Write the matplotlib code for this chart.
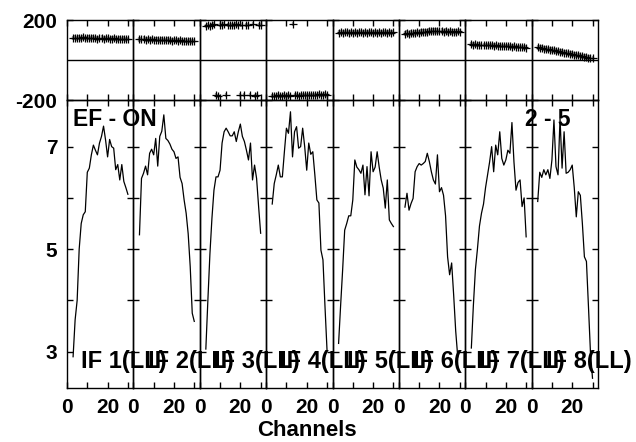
import matplotlib
matplotlib.use('Agg')
import matplotlib.pyplot as plt

plt.rcParams['font.family'] = 'Liberation Sans'
plt.rcParams['font.weight'] = 'bold'

# channel numbers of the plotted points
channels = list(range(3, 31))
if_labels = ['IF 1(LL)', 'IF 2(LL)', 'IF 3(LL)', 'IF 4(LL)',
             'IF 5(LL)', 'IF 6(LL)', 'IF 7(LL)', 'IF 8(LL)']

# amplitude per IF
amp1 = [2.90, 3.62, 4.00, 5.00, 5.50, 5.67, 5.73, 6.50, 6.58, 6.84, 7.03, 6.93, 6.84, 7.07,
        7.20, 7.40, 7.13, 6.80, 7.14, 7.00, 6.97, 6.55, 6.65, 6.35, 6.65, 6.32, 6.20, 6.07]
amp2 = [5.28, 6.38, 6.48, 6.62, 6.45, 6.87, 6.95, 6.84, 7.16, 6.62, 7.20, 7.30, 7.62, 7.16,
        7.12, 7.05, 6.95, 6.90, 6.77, 6.80, 6.40, 6.28, 5.96, 5.70, 5.30, 4.66, 3.75, 3.59]
amp3 = [3.05, 4.00, 4.90, 5.60, 6.15, 6.41, 6.41, 6.54, 7.07, 7.29, 7.36, 7.29, 7.21, 7.21,
        7.29, 7.10, 7.29, 7.44, 7.20, 7.10, 6.93, 6.74, 7.07, 6.35, 6.64, 6.38, 5.83, 5.31]
amp4 = [5.88, 6.28, 6.45, 6.64, 6.41, 6.41, 6.90, 7.36, 7.26, 7.68, 6.80, 7.29, 7.39, 6.97,
        7.00, 7.36, 7.00, 6.54, 7.07, 6.85, 6.90, 6.45, 5.96, 5.90, 4.98, 4.79, 3.88, 3.03]
amp5 = [3.16, 3.90, 4.60, 5.37, 5.50, 5.65, 5.65, 5.96, 6.74, 6.60, 6.55, 6.48, 6.64, 6.06,
        6.61, 6.04, 6.90, 6.51, 6.60, 6.90, 6.60, 6.35, 6.19, 5.80, 6.35, 5.57, 5.50, 5.44]
amp6 = [5.82, 6.09, 5.76, 5.89, 5.99, 6.51, 6.61, 6.67, 6.64, 6.67, 6.71, 6.87, 6.71, 6.51,
        6.35, 6.27, 6.84, 6.12, 6.20, 6.05, 5.65, 4.85, 4.50, 4.73, 4.10, 3.40, 2.90]
amp7 = [3.07, 3.90, 4.60, 5.00, 5.45, 5.70, 5.88, 6.20, 6.45, 6.70, 7.00, 6.51, 7.03, 6.84,
        7.29, 6.77, 6.64, 6.74, 6.93, 6.87, 7.47, 6.70, 6.15, 6.30, 6.35, 5.83, 6.00, 5.24]
amp8 = [5.93, 6.50, 6.40, 6.55, 6.45, 6.55, 6.38, 6.74, 7.52, 6.61, 6.45, 7.55, 6.58, 7.29,
        6.48, 6.50, 6.55, 6.64, 6.20, 5.63, 6.12, 6.05, 5.50, 4.85, 4.76, 3.88, 2.97, 2.48]
amps = [amp1, amp2, amp3, amp4, amp5, amp6, amp7, amp8]

# phase per IF (degrees)
ph1 = [110, 112, 108, 111, 109, 113, 110, 108, 112, 109, 111, 110, 107, 109,
       111, 106, 108, 110, 105, 107, 109, 106, 104, 107, 105, 106, 103, 105]
ph2 = [104, 103, 106, 102, 104, 101, 103, 100, 102, 101, 99, 102, 100, 98,
       101, 99, 97, 100, 98, 96, 99, 97, 95, 97, 94, 96, 93, 95]
ph3 = [172, 176, 170, 174, 178, -176, -179, 176, 174, 178, -175, 175, 177, 173,
       176, 179, 174, -177, 175, -174, 177, 176, -176, 178, -178, -175, 175, 177]
ph4 = [-179, -178, -180, -177, -179, -178, -176, -179, -177, -178, 178, -177, -176, -178,
       -175, -177, -176, -174, -176, -175, -173, -175, -174, -172, -174, -173, -171, -173]
ph5 = [137, 139, 136, 138, 140, 137, 138, 136, 139, 137, 138, 140, 137, 138,
       136, 139, 138, 137, 139, 136, 138, 137, 139, 138, 136, 138, 137, 139]
ph6 = [132, 134, 131, 135, 133, 136, 138, 137, 140, 139, 142, 141, 144, 143,
       145, 144, 146, 143, 145, 142, 144, 141, 143, 140, 142, 141, 143, 142]
ph7 = [79, 77, 78, 76, 77, 75, 76, 74, 75, 73, 74, 72, 73, 71,
       72, 70, 71, 69, 70, 68, 67, 68, 66, 65, 66, 64, 63, 62]
ph8 = [63, 60, 61, 57, 55, 54, 51, 50, 48, 45, 44, 41, 40, 37,
       36, 33, 31, 30, 27, 25, 24, 21, 19, 17, 15, 12, 10, 8]
phases = [ph1, ph2, ph3, ph4, ph5, ph6, ph7, ph8]
phase_err = [12, 12, 10, 10, 12, 14, 11, 13]

W, H = 636, 442
fig = plt.figure(figsize=(W / 100, H / 100), dpi=100)
left, right = 67 / W, 598 / W
pw = (right - left) / 8

for i in range(8):
    x0 = left + i * pw
    axp = fig.add_axes([x0, 1 - 100 / H, pw, 80 / H])
    axa = fig.add_axes([x0, 1 - 388 / H, pw, 288 / H])

    axp.errorbar(channels, phases[i], yerr=phase_err[i], fmt='+', color='black',
                 ecolor='#9a9a9a', elinewidth=1.6, capsize=0, ms=6, mew=0.9)
    axp.axhline(0, color='black', lw=1)
    axa.plot(channels[:len(amps[i])], amps[i], color='black', lw=0.9)

    for ax in (axp, axa):
        ax.set_facecolor('none')
        ax.set_xlim(0, 32.7)
        ax.set_xticks([0, 10, 20, 30])
        ax.tick_params(direction='in', length=4, width=1, top=True, right=True,
                       labelsize=15, pad=7)
        for s in ax.spines.values():
            s.set_linewidth(1)
    axp.set_ylim(-200, 200)
    axp.set_yticks([-200, 200])
    axp.set_xticklabels([])
    axa.set_ylim(2.29, 7.91)
    axa.set_yticks([3, 4, 5, 6, 7])
    axa.set_xticklabels(['0', '', '20', ''])
    if i == 0:
        axp.set_yticklabels(['-200', '200'])
        axa.set_yticklabels(['3', '', '5', '', '7'])
        axa.text(3.1, 7.52, 'EF - ON', fontsize=16.5, ha='left', va='center')
    else:
        axp.set_yticklabels([])
        axa.set_yticklabels([])
    axa.text(7, 2.68, if_labels[i], fontsize=17, ha='left', va='baseline')

fig.text(525 / W, 1 - 120 / H, '2 - 5', fontsize=16.5, ha='left', va='center')
fig.text(307 / W, 1 - 430 / H, 'Channels', fontsize=16, ha='center', va='center')

fig.savefig('out.png', dpi=100)
